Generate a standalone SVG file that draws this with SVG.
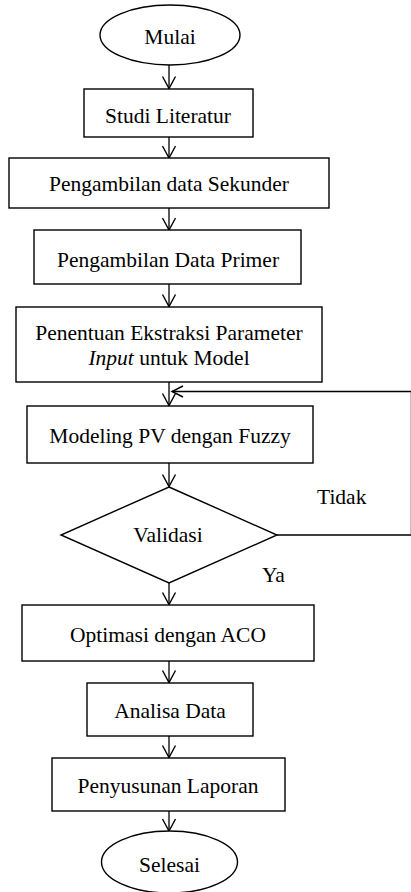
<svg xmlns="http://www.w3.org/2000/svg" width="411" height="892" viewBox="0 0 411 892">
<style>
  .shape { fill: #ffffff; stroke: #000000; stroke-width: 1.4; }
  .txt { font-family: "Liberation Serif", "Times New Roman", serif; font-size: 21.5px; fill: #000000; text-anchor: middle; }
  .lbl { font-family: "Liberation Serif", "Times New Roman", serif; font-size: 21.5px; fill: #000000; }
  .conn { fill: none; stroke: #000000; stroke-width: 1.3; }
</style>
<defs>
  <marker id="arrow" markerUnits="userSpaceOnUse" markerWidth="20" markerHeight="20" refX="0" refY="0" orient="auto" overflow="visible">
    <path d="M-12,-6.5 L0,0 L-12,6.5" fill="none" stroke="#000000" stroke-width="1.4"/>
  </marker>
  <marker id="arrow-small" markerUnits="userSpaceOnUse" markerWidth="20" markerHeight="20" refX="0" refY="0" orient="auto" overflow="visible">
    <path d="M-11,-5.5 L0,0 L-11,5.5" fill="none" stroke="#000000" stroke-width="1.4"/>
  </marker>
</defs>
<rect x="0" y="0" width="411" height="892" fill="#ffffff"/>

<g id="connectors">
  <line class="conn" x1="169" y1="65" x2="169" y2="88.5" marker-end="url(#arrow)"/>
  <line class="conn" x1="169" y1="137" x2="169" y2="158" marker-end="url(#arrow)"/>
  <line class="conn" x1="169" y1="208" x2="169" y2="230" marker-end="url(#arrow)"/>
  <line class="conn" x1="169" y1="284" x2="169" y2="306.5" marker-end="url(#arrow)"/>
  <line class="conn" x1="169" y1="382" x2="169" y2="405.5" marker-end="url(#arrow)"/>
  <line class="conn" x1="169" y1="463" x2="169" y2="486.5" marker-end="url(#arrow)"/>
  <line class="conn" x1="169" y1="583" x2="169" y2="604.5" marker-end="url(#arrow)"/>
  <line class="conn" x1="169" y1="661" x2="169" y2="682.5" marker-end="url(#arrow)"/>
  <line class="conn" x1="169" y1="736" x2="169" y2="757.5" marker-end="url(#arrow)"/>
  <line class="conn" x1="169" y1="811" x2="169" y2="831" marker-end="url(#arrow)"/>
  <polyline class="conn" points="277,535 411.4,535 411.4,391.5 172,391.5" marker-end="url(#arrow-small)"/>
  <text class="lbl" x="317" y="504">Tidak</text>
  <text class="lbl" x="262" y="582">Ya</text>
</g>

<g id="mulai">
  <ellipse class="shape" cx="170" cy="35" rx="70" ry="30"/>
  <text class="txt" x="170" y="43.5">Mulai</text>
</g>

<g id="studi-literatur">
  <rect class="shape" x="84" y="89" width="169" height="48"/>
  <text class="txt" x="168" y="122.5">Studi Literatur</text>
</g>

<g id="data-sekunder">
  <rect class="shape" x="9" y="158" width="320" height="50"/>
  <text class="txt" x="169" y="191">Pengambilan data Sekunder</text>
</g>

<g id="data-primer">
  <rect class="shape" x="34" y="230" width="267" height="54"/>
  <text class="txt" x="168" y="266.5">Pengambilan Data Primer</text>
</g>

<g id="ekstraksi-parameter">
  <rect class="shape" x="16" y="307" width="306" height="75"/>
  <text class="txt" x="169" y="340">Penentuan Ekstraksi Parameter</text>
  <text class="txt" x="169" y="365"><tspan font-style="italic">Input</tspan> untuk Model</text>
</g>

<g id="modeling-pv">
  <rect class="shape" x="27" y="406" width="286" height="57"/>
  <text class="txt" x="170" y="443">Modeling PV dengan Fuzzy</text>
</g>

<g id="validasi">
  <polygon class="shape" points="169,487 277,535 169,583 61,535"/>
  <text class="txt" x="168" y="541.5">Validasi</text>
</g>

<g id="optimasi-aco">
  <rect class="shape" x="22" y="605" width="292" height="56"/>
  <text class="txt" x="168" y="641.5">Optimasi dengan ACO</text>
</g>

<g id="analisa-data">
  <rect class="shape" x="87" y="683" width="166" height="53"/>
  <text class="txt" x="170" y="717.5">Analisa Data</text>
</g>

<g id="penyusunan-laporan">
  <rect class="shape" x="52" y="758" width="233" height="53"/>
  <text class="txt" x="168" y="793">Penyusunan Laporan</text>
</g>

<g id="selesai">
  <ellipse class="shape" cx="169.5" cy="862" rx="68" ry="31"/>
  <text class="txt" x="169.5" y="872">Selesai</text>
</g>
</svg>
